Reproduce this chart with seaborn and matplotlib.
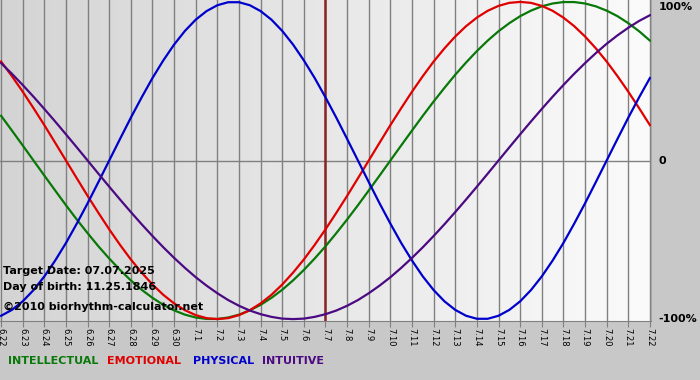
import numpy as np
import pandas as pd
import matplotlib
matplotlib.use('Agg')
import matplotlib.pyplot as plt
import seaborn as sns
from matplotlib.colors import LinearSegmentedColormap

dates = ['6.22', '6.23', '6.24', '6.25', '6.26', '6.27', '6.28', '6.29', '6.30',
         '7.1', '7.2', '7.3', '7.4', '7.5', '7.6', '7.7', '7.8', '7.9', '7.10',
         '7.11', '7.12', '7.13', '7.14', '7.15', '7.16', '7.17', '7.18', '7.19',
         '7.20', '7.21', '7.22']
intellectual = [0.282, 0.189, 0.095, 0.0, -0.095, -0.189, -0.282, -0.372, -0.458, -0.541,
                -0.618, -0.690, -0.756, -0.815, -0.866, -0.910, -0.945, -0.972, -0.990, -0.999,
                -0.999, -0.990, -0.972, -0.945, -0.910, -0.866, -0.815, -0.756, -0.690, -0.618,
                -0.541, -0.458, -0.372, -0.282, -0.189, -0.095, 0.0, 0.095, 0.189, 0.282,
                0.372, 0.458, 0.541, 0.618, 0.690, 0.756, 0.815, 0.866, 0.910, 0.945,
                0.972, 0.990, 0.999, 0.999, 0.990, 0.972, 0.945, 0.910, 0.866, 0.815, 0.756]
emotional = [0.624, 0.532, 0.434, 0.330, 0.223, 0.112, 0.0, -0.112, -0.223, -0.330,
             -0.434, -0.532, -0.624, -0.707, -0.782, -0.847, -0.901, -0.944, -0.975, -0.994,
             -1.000, -0.994, -0.975, -0.944, -0.901, -0.847, -0.782, -0.707, -0.624, -0.532,
             -0.434, -0.330, -0.223, -0.112, 0.0, 0.112, 0.223, 0.330, 0.434, 0.532,
             0.624, 0.707, 0.782, 0.847, 0.901, 0.944, 0.975, 0.994, 1.000, 0.994,
             0.975, 0.944, 0.901, 0.847, 0.782, 0.707, 0.624, 0.532, 0.434, 0.330, 0.223]
physical = [-0.979, -0.942, -0.888, -0.817, -0.731, -0.631, -0.520, -0.398, -0.270, -0.136,
            0.0, 0.136, 0.270, 0.398, 0.520, 0.631, 0.731, 0.817, 0.888, 0.942,
            0.979, 0.998, 0.998, 0.979, 0.942, 0.888, 0.817, 0.731, 0.631, 0.520,
            0.398, 0.270, 0.136, 0.0, -0.136, -0.270, -0.398, -0.520, -0.631, -0.731,
            -0.817, -0.888, -0.942, -0.979, -0.998, -0.998, -0.979, -0.942, -0.888, -0.817,
            -0.731, -0.631, -0.520, -0.398, -0.270, -0.136, 0.0, 0.136, 0.270, 0.398, 0.520]
intuitive = [0.614, 0.547, 0.476, 0.402, 0.325, 0.246, 0.165, 0.083, 0.0, -0.083,
             -0.165, -0.246, -0.325, -0.402, -0.476, -0.547, -0.614, -0.677, -0.736, -0.789,
             -0.837, -0.880, -0.916, -0.946, -0.969, -0.986, -0.997, -1.000, -0.997, -0.986,
             -0.969, -0.946, -0.916, -0.880, -0.837, -0.789, -0.736, -0.677, -0.614, -0.547,
             -0.476, -0.402, -0.325, -0.246, -0.165, -0.083, 0.0, 0.083, 0.165, 0.246,
             0.325, 0.402, 0.476, 0.547, 0.614, 0.677, 0.736, 0.789, 0.837, 0.880, 0.916]
series_names = ['INTELLECTUAL', 'EMOTIONAL', 'PHYSICAL', 'INTUITIVE']
series_colors = ['#087808', '#e00000', '#0000cc', '#4b0a82']
y_tick_values = [1.0, 0.0, -1.0]
y_tick_labels = ['100%', '0', '-100%']
target_date = '7.7'
info_lines = ['Target Date: 07.07.2025', 'Day of birth: 11.25.1846',
              '\u00a92010 biorhythm-calculator.net']

# ---- build table ----
values = [intellectual, emotional, physical, intuitive]
df = pd.concat([
    pd.DataFrame({'day': np.arange(len(v)) / 2.0, 'value': v, 'series': name})
    for name, v in zip(series_names, values)
], ignore_index=True)

W, H = 700, 380
fig = plt.figure(figsize=(W / 100, H / 100), dpi=100, facecolor='#c8c8c8')
ax = fig.add_axes([0, 1 - 321 / H, 651 / W, 321 / H])

xlim = (-0.05, len(dates) - 1 + 0.05)
ylim = (-1.012, 1.012)

bg = LinearSegmentedColormap.from_list('bg', ['#d4d4d4', '#fbfbfb'])
ax.imshow(np.linspace(0, 1, 256).reshape(1, -1), extent=[xlim[0], xlim[1], ylim[0], ylim[1]],
          aspect='auto', cmap=bg, zorder=0, interpolation='bilinear')

ax.set_xticks(np.arange(len(dates)))
ax.set_xticklabels(dates)
ax.set_axisbelow(True)
ax.grid(axis='x', color='#808080', lw=1.0)
ax.axhline(0, color='#808080', lw=1.0, zorder=0.6)

sns.lineplot(data=df, x='day', y='value', hue='series', hue_order=series_names,
             palette=dict(zip(series_names, series_colors)), legend=False,
             linewidth=1.6, ax=ax, zorder=3)

ax.axvline(dates.index(target_date), color='#8b2525', lw=1.8, zorder=2.5)

ax.set_xlim(*xlim)
ax.set_ylim(*ylim)
ax.set_xlabel('')
ax.set_ylabel('')
ax.set_yticks([])
for s in ['left', 'top']:
    ax.spines[s].set_visible(False)
ax.spines['bottom'].set_color('#808080')
ax.spines['right'].set_color('#a8a8a8')
ax.tick_params(axis='x', length=4, color='#808080', direction='out', pad=1,
               labelsize=6, labelrotation=270)
for lab in ax.get_xticklabels():
    lab.set_verticalalignment('top')
    lab.set_horizontalalignment('center')

# right-side value labels
for v, t in zip(y_tick_values, y_tick_labels):
    ax.text(1.012, v, t, transform=ax.get_yaxis_transform(), ha='left',
            va='top' if v > 0.5 else 'center', fontsize=8, fontweight='bold',
            color='black', clip_on=False)

# info text inside plot
for i, line in enumerate(info_lines):
    y_px = [271, 287, 307][i]
    fig.text(3 / W, 1 - y_px / H, line, ha='left', va='center', fontsize=8,
             fontweight='bold', color='black', zorder=5)

# colored series legend at bottom
x_px = [8, 107, 193, 262]
for name, col, xp in zip(series_names, series_colors, x_px):
    fig.text(xp / W, 1 - 361 / H, name, ha='left', va='center', fontsize=8,
             fontweight='bold', color=col)

fig.savefig('out.png', dpi=100, facecolor=fig.get_facecolor())
